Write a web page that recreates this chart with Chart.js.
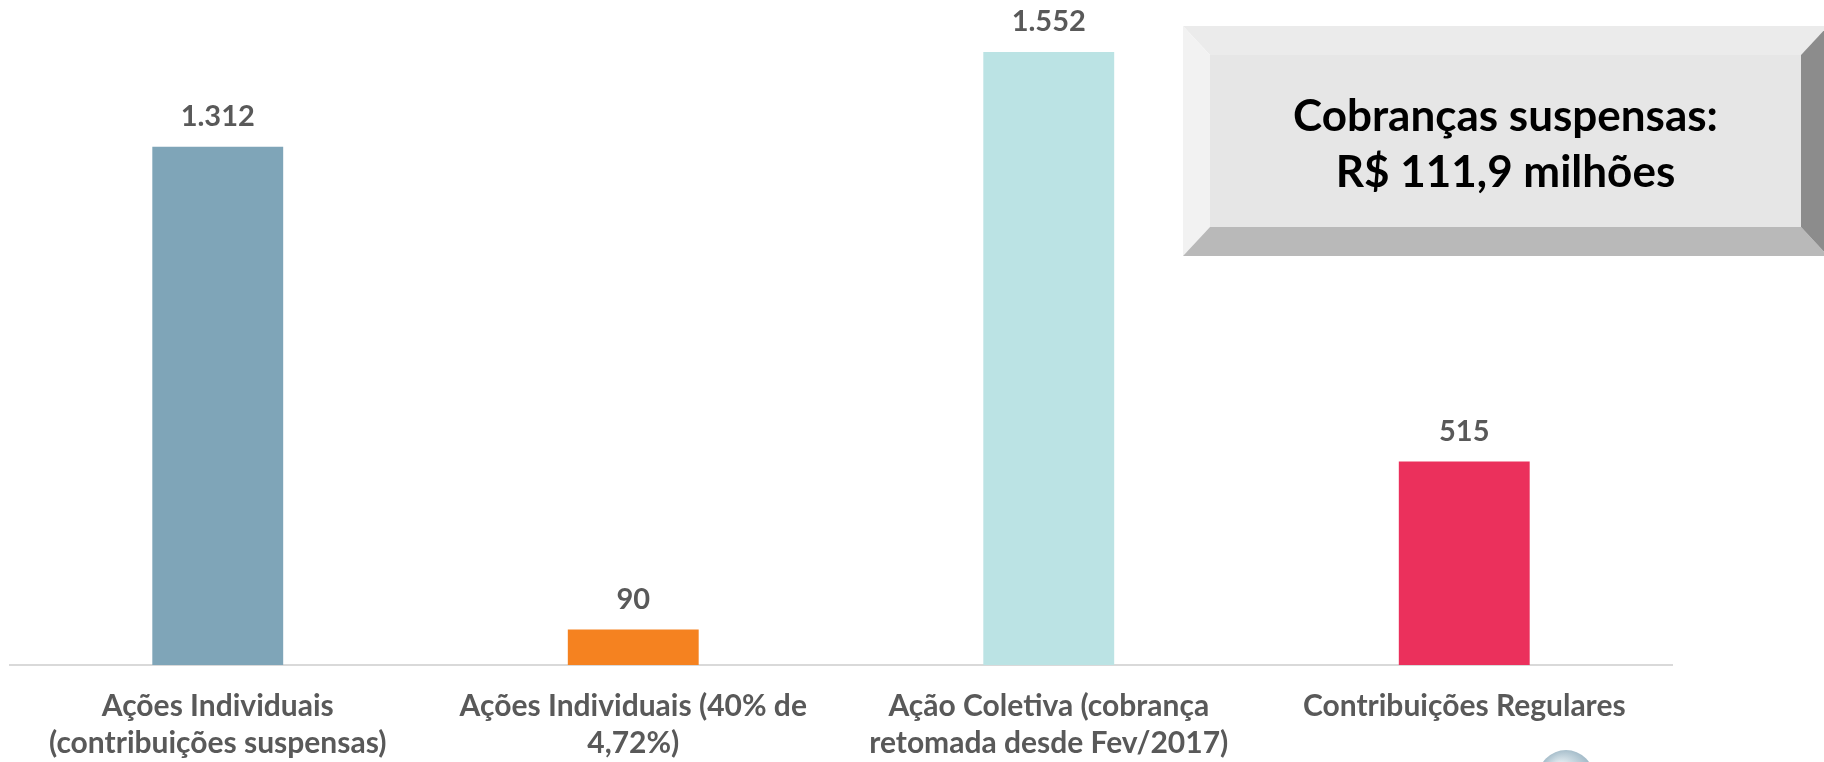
<!DOCTYPE html>
<html>
<head>
<meta charset="utf-8">
<script src="https://cdn.jsdelivr.net/npm/chart.js@4/dist/chart.umd.min.js"></script>
<style>
  html, body { margin: 0; padding: 0; background: #ffffff; }
  #wrap { width: 1824px; height: 762px; position: relative; }
</style>
</head>
<body>
<div id="wrap"><canvas id="c" width="1824" height="762"></canvas></div>
<script>
// ---- data ----
const categories = [
  ["Ações Individuais", "(contribuições suspensas)"],
  ["Ações Individuais (40% de", "4,72%)"],
  ["Ação Coletiva (cobrança", "retomada desde Fev/2017)"],
  ["Contribuições Regulares"]
];
const values = [1312, 90, 1552, 515];
const barColors = ["#7fa5b8", "#f58220", "#bbe3e4", "#eb305c"];
const boxLines = ["Cobranças suspensas:", "R$ 111,9 milhões"];

const FONT = "Lato, 'Open Sans', sans-serif";
const GRAY = "#595959";

function fmt(v) {
  return String(v).replace(/\B(?=(\d{3})+(?!\d))/g, ".");
}

const valueLabels = {
  id: 'valueLabels',
  afterDatasetsDraw(chart) {
    const ctx = chart.ctx;
    const meta = chart.getDatasetMeta(0);
    ctx.save();
    ctx.fillStyle = GRAY;
    ctx.font = "bold 29px " + FONT;
    ctx.textAlign = "center";
    ctx.textBaseline = "middle";
    meta.data.forEach((bar, i) => {
      ctx.fillText(fmt(values[i]), bar.x, bar.y - 30);
    });
    ctx.restore();
  }
};

const bevelBox = {
  id: 'bevelBox',
  afterDraw(chart) {
    const ctx = chart.ctx;
    const L = 1183, T = 26, R = 1828, B = 256;
    const l = 1210, t = 55, r = 1801, b = 227;
    ctx.save();
    const poly = (pts, col) => {
      ctx.beginPath();
      ctx.moveTo(pts[0][0], pts[0][1]);
      for (let k = 1; k < pts.length; k++) ctx.lineTo(pts[k][0], pts[k][1]);
      ctx.closePath();
      ctx.fillStyle = col;
      ctx.fill();
    };
    poly([[L, T], [R, T], [r, t], [l, t]], "#ebebeb");
    poly([[L, T], [l, t], [l, b], [L, B]], "#f2f2f2");
    poly([[L, B], [l, b], [r, b], [R, B]], "#b9b9b9");
    poly([[R, T], [R, B], [r, b], [r, t]], "#8c8c8c");
    ctx.fillStyle = "#e6e6e6";
    ctx.fillRect(l, t, r - l, b - t);
    ctx.fillStyle = "#000000";
    ctx.font = "bold 44px " + FONT;
    ctx.textAlign = "center";
    ctx.textBaseline = "middle";
    ctx.fillText(boxLines[0], (l + r) / 2, 117);
    ctx.fillText(boxLines[1], (l + r) / 2, 173);

    // partial logo globe at bottom-right (cut off by the edge)
    const g = ctx.createRadialGradient(1560, 768, 4, 1566, 776, 28);
    g.addColorStop(0, "#e8f0f4");
    g.addColorStop(1, "#9fb8c6");
    ctx.beginPath();
    ctx.arc(1566, 778, 28, 0, Math.PI * 2);
    ctx.fillStyle = g;
    ctx.fill();
    ctx.restore();
  }
};

new Chart(document.getElementById('c'), {
  type: 'bar',
  data: {
    labels: categories,
    datasets: [{
      data: values,
      backgroundColor: barColors,
      borderWidth: 0,
      categoryPercentage: 1.0,
      barPercentage: 0.315
    }]
  },
  options: {
    responsive: false,
    animation: false,
    devicePixelRatio: 1,
    layout: { padding: { left: 10, right: 152, top: 33, bottom: 0 } },
    plugins: {
      legend: { display: false },
      tooltip: { enabled: false },
      title: { display: false }
    },
    scales: {
      x: {
        grid: { display: false, drawTicks: false },
        border: { display: true, color: "#d9d9d9", width: 2 },
        afterFit(scale) { scale.height = 97; },
        ticks: {
          autoSkip: false,
          maxRotation: 0,
          minRotation: 0,
          padding: 23,
          color: GRAY,
          font: { family: FONT, size: 30, weight: 'bold', lineHeight: 37 / 30 }
        }
      },
      y: {
        display: false,
        min: 0,
        max: 1600
      }
    }
  },
  plugins: [valueLabels, bevelBox]
});
</script>
</body>
</html>
